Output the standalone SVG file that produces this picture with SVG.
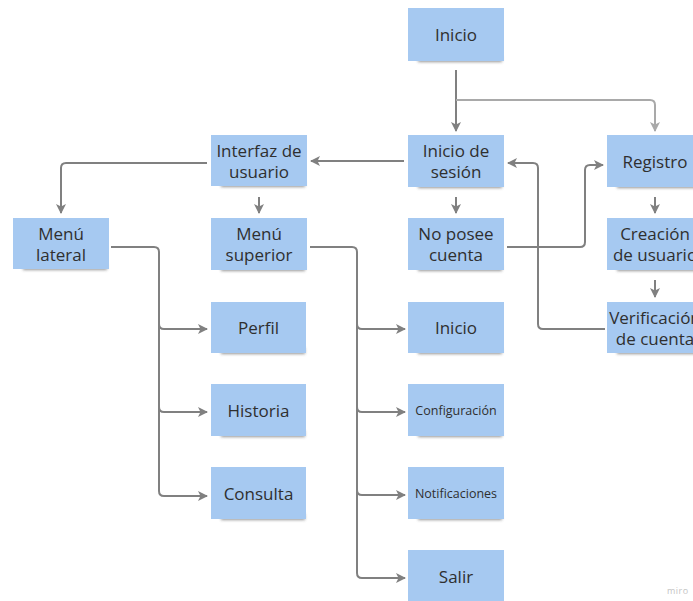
<svg xmlns="http://www.w3.org/2000/svg" width="693" height="601" viewBox="0 0 693 601">
  <style>
    .note { fill: #a6c9f1; }
    .shade { fill: #404040; opacity: 0.55; filter: url(#soft); }
    .lbl { font-family: "Open Sans", "Noto Sans", sans-serif; font-size: 17px; fill: #2f2f2f; text-anchor: middle; dominant-baseline: central; }
    .sm { font-size: 12.5px; }
    .wire { fill: none; stroke: #808080; stroke-width: 2; marker-end: url(#head); }
    .wire.light { stroke: #a9a9a9; marker-end: url(#headLight); }
    .mark { font-family: "Open Sans", sans-serif; font-size: 9px; fill: #c4c4c4; letter-spacing: 0.5px; }
  </style>
  <defs>
    <filter id="soft" x="-20%" y="-100%" width="140%" height="300%">
      <feGaussianBlur stdDeviation="1.6"/>
    </filter>
    <marker id="head" viewBox="0 0 10 10" refX="9" refY="5" markerWidth="10" markerHeight="10" markerUnits="userSpaceOnUse" orient="auto">
      <path d="M0,0 L10,5 L0,10 L2.5,5 z" fill="#808080"/>
    </marker>
    <marker id="headLight" viewBox="0 0 10 10" refX="9" refY="5" markerWidth="10" markerHeight="10" markerUnits="userSpaceOnUse" orient="auto">
      <path d="M0,0 L10,5 L0,10 L2.5,5 z" fill="#a9a9a9"/>
    </marker>
  </defs>

  <rect width="693" height="601" fill="#ffffff"/>

  <!-- connectors -->
  <g id="connectors">
    <path class="wire" d="M456,70 V131"/>
    <path class="wire light" d="M456,100 H650 Q655,100 655,105 V131"/>
    <path class="wire" d="M404,161 H311"/>
    <path class="wire" d="M207,163 H66 Q61,163 61,168 V213"/>
    <path class="wire" d="M259,197 V213"/>
    <path class="wire" d="M456,197 V213"/>
    <path class="wire" d="M507,247 H580 Q585,247 585,242 V170 Q585,165 590,165 H603"/>
    <path class="wire" d="M605,329 H543 Q538,329 538,324 V168 Q538,163 533,163 H508"/>
    <path class="wire" d="M655,197 V213"/>
    <path class="wire" d="M655,280 V297"/>
    <!-- side menu tree -->
    <path class="wire" d="M111,247 H154 Q159,247 159,252 V491 Q159,496 164,496 H207"/>
    <path class="wire" d="M159,324 Q159,329 164,329 H207"/>
    <path class="wire" d="M159,407 Q159,412 164,412 H207"/>
    <!-- top menu tree -->
    <path class="wire" d="M310,247 H352 Q357,247 357,252 V573 Q357,578 362,578 H405"/>
    <path class="wire" d="M357,324 Q357,329 362,329 H405"/>
    <path class="wire" d="M357,407 Q357,412 362,412 H405"/>
    <path class="wire" d="M357,490 Q357,495 362,495 H405"/>
  </g>

  <!-- notes -->
  <g id="n-inicio">
    <rect class="shade" x="418" y="56" width="84" height="6"/>
    <rect class="note" x="408" y="8" width="96" height="53"/>
    <text class="lbl" x="456" y="34">Inicio</text>
  </g>
  <g id="n-inicio-sesion">
    <rect class="shade" x="418" y="182" width="84" height="6"/>
    <rect class="note" x="408" y="135" width="96" height="52"/>
    <text class="lbl" x="456" y="150.5">Inicio de</text>
    <text class="lbl" x="456" y="171.5">sesión</text>
  </g>
  <g id="n-registro">
    <rect class="shade" x="617" y="182" width="84" height="6"/>
    <rect class="note" x="607" y="135" width="96" height="52"/>
    <text class="lbl" x="655" y="161">Registro</text>
  </g>
  <g id="n-interfaz">
    <rect class="shade" x="221" y="181" width="84" height="6"/>
    <rect class="note" x="211" y="135" width="96" height="51"/>
    <text class="lbl" x="259" y="150.5">Interfaz de</text>
    <text class="lbl" x="259" y="171.5">usuario</text>
  </g>
  <g id="n-menu-lateral">
    <rect class="shade" x="23" y="264" width="84" height="6"/>
    <rect class="note" x="13" y="218" width="96" height="51"/>
    <text class="lbl" x="61" y="233.5">Menú</text>
    <text class="lbl" x="61" y="254.5">lateral</text>
  </g>
  <g id="n-menu-superior">
    <rect class="shade" x="221" y="265" width="84" height="6"/>
    <rect class="note" x="211" y="218" width="96" height="52"/>
    <text class="lbl" x="259" y="233.5">Menú</text>
    <text class="lbl" x="259" y="254.5">superior</text>
  </g>
  <g id="n-no-posee">
    <rect class="shade" x="418" y="265" width="84" height="6"/>
    <rect class="note" x="408" y="218" width="96" height="52"/>
    <text class="lbl" x="456" y="233.5">No posee</text>
    <text class="lbl" x="456" y="254.5">cuenta</text>
  </g>
  <g id="n-creacion">
    <rect class="shade" x="617" y="265" width="84" height="6"/>
    <rect class="note" x="607" y="218" width="96" height="52"/>
    <text class="lbl" x="655" y="233.5">Creación</text>
    <text class="lbl" x="655" y="254.5">de usuario</text>
  </g>
  <g id="n-verificacion">
    <rect class="shade" x="617" y="348" width="84" height="6"/>
    <rect class="note" x="607" y="302" width="96" height="51"/>
    <text class="lbl" x="655" y="317">Verificación</text>
    <text class="lbl" x="655" y="338">de cuenta</text>
  </g>
  <g id="n-inicio-menu">
    <rect class="shade" x="418" y="348" width="84" height="6"/>
    <rect class="note" x="408" y="302" width="96" height="51"/>
    <text class="lbl" x="456" y="327.5">Inicio</text>
  </g>
  <g id="n-perfil">
    <rect class="shade" x="221" y="348" width="84" height="6"/>
    <rect class="note" x="211" y="302" width="95" height="51"/>
    <text class="lbl" x="258.5" y="327.5">Perfil</text>
  </g>
  <g id="n-historia">
    <rect class="shade" x="221" y="431" width="84" height="6"/>
    <rect class="note" x="211" y="384" width="95" height="52"/>
    <text class="lbl" x="258.5" y="410">Historia</text>
  </g>
  <g id="n-configuracion">
    <rect class="shade" x="418" y="431" width="84" height="6"/>
    <rect class="note" x="408" y="384" width="96" height="52"/>
    <text class="lbl sm" x="456" y="410">Configuración</text>
  </g>
  <g id="n-consulta">
    <rect class="shade" x="221" y="514" width="84" height="6"/>
    <rect class="note" x="211" y="467" width="95" height="52"/>
    <text class="lbl" x="258.5" y="493">Consulta</text>
  </g>
  <g id="n-notificaciones">
    <rect class="shade" x="418" y="514" width="84" height="6"/>
    <rect class="note" x="408" y="467" width="96" height="52"/>
    <text class="lbl sm" x="456" y="493">Notificaciones</text>
  </g>
  <g id="n-salir">
    <rect class="note" x="408" y="550" width="96" height="52"/>
    <text class="lbl" x="456" y="576">Salir</text>
  </g>

  <text class="mark" x="667" y="594">miro</text>
</svg>
